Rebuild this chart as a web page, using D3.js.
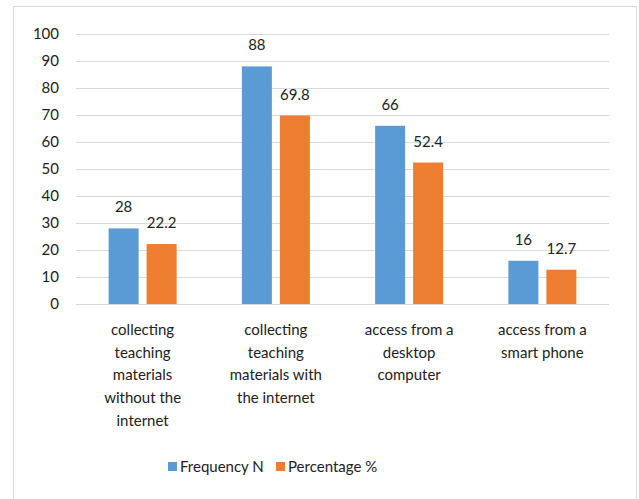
<!DOCTYPE html>
<html><head><meta charset="utf-8">
<script src="https://cdn.jsdelivr.net/npm/d3@7"></script>
<style>body{margin:0;background:#fff}svg{display:block}text{font-family:Lato,"Open Sans",sans-serif;fill:#222}</style>
</head><body><svg id="c" width="639" height="499"></svg>
<script>
const categories = [
  ["collecting","teaching","materials","without the","internet"],
  ["collecting","teaching","materials with","the internet"],
  ["access from a","desktop","computer"],
  ["access from a","smart phone"]
];
const seriesNames = ["Frequency N","Percentage %"];
const frequency = [28, 88, 66, 16];
const percentage = [22.2, 69.8, 52.4, 12.7];
const yTicks = [0,10,20,30,40,50,60,70,80,90,100];
const colors = ["#5B9BD5","#ED7D31"];

(function(){
const svg = d3.select("#c");
svg.append("rect").attr("x",13.5).attr("y",6.5).attr("width",623).attr("height",500)
  .attr("fill","#fff").attr("stroke","#D9D9D9");

const pLeft=76, pRight=609, pTop=34, pBottom=304;
const x = d3.scaleBand().domain(d3.range(categories.length)).range([pLeft,pRight]);
const y = d3.scaleLinear().domain([0,100]).range([pBottom,pTop]);
const barW = 30, gap = 8;
const x1 = d3.scaleOrdinal().domain([0,1]).range([-(barW+gap/2), gap/2]);

svg.append("g").selectAll("line").data(yTicks).join("line")
  .attr("x1",pLeft).attr("x2",pRight).attr("y1",d=>Math.round(y(d))+0.5).attr("y2",d=>Math.round(y(d))+0.5)
  .attr("stroke","#D9D9D9").attr("stroke-width",1);

svg.append("g").selectAll("text").data(yTicks).join("text")
  .attr("x",59).attr("y",d=>y(d)).attr("dy","0.35em").attr("text-anchor","end")
  .attr("font-size",15).text(d=>d);

const series = [frequency, percentage];
series.forEach((vals,si)=>{
  const g = svg.append("g");
  g.selectAll("rect").data(vals).join("rect")
    .attr("x",(d,i)=>x(i)+x.bandwidth()/2+x1(si))
    .attr("y",d=>y(d)).attr("width",barW).attr("height",d=>pBottom-y(d))
    .attr("fill",colors[si]);
  g.selectAll("text").data(vals).join("text")
    .attr("x",(d,i)=>x(i)+x.bandwidth()/2+x1(si)+barW/2)
    .attr("y",d=>y(d)-16).attr("text-anchor","middle").attr("font-size",15)
    .text(d=>d);
});

categories.forEach((lines,i)=>{
  const t = svg.append("text").attr("text-anchor","middle").attr("font-size",15);
  lines.forEach((ln,j)=>{
    t.append("tspan").attr("x",x(i)+x.bandwidth()/2).attr("y",335+j*22.7).text(ln);
  });
});

const legend = [{x:168,tx:180},{x:276,tx:288}];
seriesNames.forEach((n,i)=>{
  svg.append("rect").attr("x",legend[i].x).attr("y",462).attr("width",9).attr("height",9).attr("fill",colors[i]);
  svg.append("text").attr("x",legend[i].tx).attr("y",467).attr("dy","0.35em").attr("font-size",15).text(n);
});
})();
</script></body></html>
